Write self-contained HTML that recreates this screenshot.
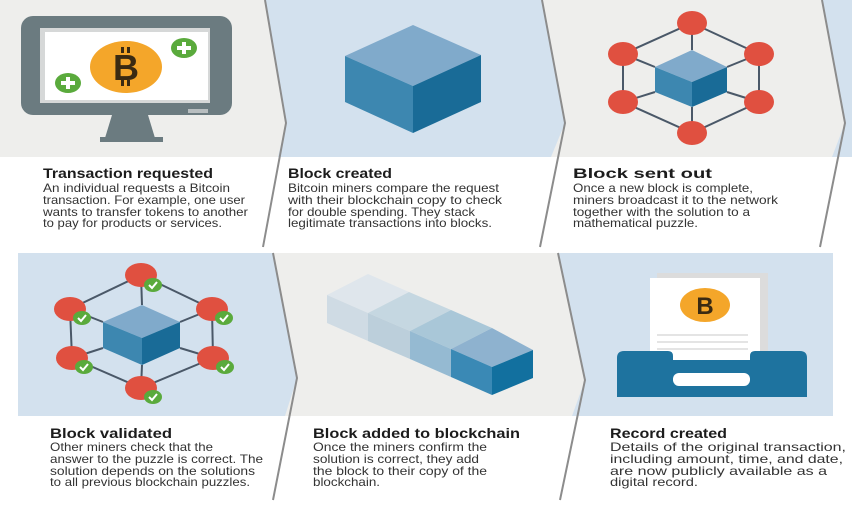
<!DOCTYPE html>
<html><head><meta charset="utf-8"><style>
html,body{margin:0;padding:0;background:#fff;}
svg{display:block;}
.t{font-family:"Liberation Sans",sans-serif;font-weight:bold;font-size:14px;fill:#1c1c1c;}
.b{font-family:"Liberation Sans",sans-serif;font-size:12px;fill:#333;}
.coin{font-family:"Liberation Sans",sans-serif;font-weight:900;fill:#3a2a12;}
</style></head><body>
<svg width="852" height="506" viewBox="0 0 852 506" xmlns="http://www.w3.org/2000/svg">
<rect x="0" y="0" width="852" height="157" fill="#eeeeec"/>
<polygon points="265,0 542,0 565,123 551,157 278,157 286,123" fill="#d3e1ee"/>
<polygon points="822,0 852,0 852,157 832,157 845,123" fill="#d3e1ee"/>
<rect x="18" y="253" width="815" height="163" fill="#d3e1ee"/>
<polygon points="273,253 558,253 585,380 572,416 285,416 297,378" fill="#eeeeec"/>
<g stroke="#8c8c8c" stroke-width="2" fill="none">
<polyline points="265,0 286,123 263,247"/>
<polyline points="542,0 565,123 540,247"/>
<polyline points="822,0 845,123 820,247"/>
<polyline points="273,253 297,378 273,500"/>
<polyline points="558,253 585,380 560,500"/>
</g>

<rect x="21" y="16" width="211" height="99" rx="12" fill="#6b7b80"/>
<rect x="40" y="28" width="170" height="75" fill="#d6d8d8"/>
<rect x="45" y="32" width="163" height="68" fill="#fff"/>
<rect x="188" y="109" width="20" height="4" fill="#b8bec0"/>
<polygon points="112,115 148,115 155,138 105,138" fill="#6b7b80"/>
<rect x="100" y="137" width="63" height="5" fill="#6b7b80"/>
<ellipse cx="126" cy="67" rx="36" ry="26" fill="#f4a62a"/>
<text x="126" y="80" text-anchor="middle" class="coin" font-size="36">B</text>
<rect x="121" y="47" width="3" height="6" fill="#3a2a12"/><rect x="127" y="47" width="3" height="6" fill="#3a2a12"/>
<rect x="121" y="80" width="3" height="6" fill="#3a2a12"/><rect x="127" y="80" width="3" height="6" fill="#3a2a12"/>
<g fill="#5aaa3c"><ellipse cx="68" cy="83" rx="13" ry="10"/><ellipse cx="184" cy="48" rx="13" ry="10"/></g>
<g fill="#fff"><rect x="61" y="81" width="14" height="4"/><rect x="66" y="77" width="4" height="12"/>
<rect x="177" y="46" width="14" height="4"/><rect x="182" y="42" width="4" height="12"/></g>

<polygon points="413,25 481,55 413,86 345,56" fill="#80aacb"/>
<polygon points="345,56 413,86 413,133 345,102" fill="#3d87b0"/>
<polygon points="413,86 481,55 481,102 413,133" fill="#196b97"/>

<g stroke="#4a5868" stroke-width="2" fill="none">
<polygon points="692,23 759,54 759,102 692,133 623,102 623,54"/>
<line x1="692" y1="23" x2="692" y2="50"/><line x1="623" y1="54" x2="655" y2="67"/>
<line x1="759" y1="54" x2="727" y2="67"/><line x1="623" y1="102" x2="655" y2="92"/>
<line x1="759" y1="102" x2="727" y2="92"/><line x1="692" y1="133" x2="692" y2="107"/>
</g>
<polygon points="692,50 727,67 692,82 655,67" fill="#80aacb"/>
<polygon points="655,67 692,82 692,107 655,92" fill="#3d87b0"/>
<polygon points="692,82 727,67 727,92 692,107" fill="#196b97"/>
<g fill="#e05040">
<ellipse cx="692" cy="23" rx="15" ry="12"/><ellipse cx="623" cy="54" rx="15" ry="12"/><ellipse cx="759" cy="54" rx="15" ry="12"/>
<ellipse cx="623" cy="102" rx="15" ry="12"/><ellipse cx="759" cy="102" rx="15" ry="12"/><ellipse cx="692" cy="133" rx="15" ry="12"/>
</g>

<g stroke="#4a5868" stroke-width="2" fill="none">
<polygon points="141,275 212,309 213,358 141,388 72,358 70,309"/>
<line x1="141" y1="275" x2="142" y2="305"/><line x1="70" y1="309" x2="103" y2="322"/>
<line x1="212" y1="309" x2="180" y2="322"/><line x1="72" y1="358" x2="103" y2="348"/>
<line x1="213" y1="358" x2="180" y2="348"/><line x1="141" y1="388" x2="142" y2="365"/>
</g>
<polygon points="142,305 180,322 142,338 103,322" fill="#80aacb"/>
<polygon points="103,322 142,338 142,365 103,348" fill="#3d87b0"/>
<polygon points="142,338 180,322 180,348 142,365" fill="#196b97"/>
<g fill="#e05040">
<ellipse cx="141" cy="275" rx="16" ry="12"/><ellipse cx="70" cy="309" rx="16" ry="12"/><ellipse cx="212" cy="309" rx="16" ry="12"/>
<ellipse cx="72" cy="358" rx="16" ry="12"/><ellipse cx="213" cy="358" rx="16" ry="12"/><ellipse cx="141" cy="388" rx="16" ry="12"/>
</g>
<g fill="#5aaa3c">
<ellipse cx="153" cy="285" rx="9" ry="7"/><ellipse cx="82" cy="318" rx="9" ry="7"/><ellipse cx="224" cy="318" rx="9" ry="7"/>
<ellipse cx="84" cy="367" rx="9" ry="7"/><ellipse cx="225" cy="367" rx="9" ry="7"/><ellipse cx="153" cy="397" rx="9" ry="7"/>
</g>
<g stroke="#fff" stroke-width="2" fill="none">
<polyline points="149,285 152,288 157,282"/><polyline points="78,318 81,321 86,315"/><polyline points="220,318 223,321 228,315"/>
<polyline points="80,367 83,370 88,364"/><polyline points="221,367 224,370 229,364"/><polyline points="149,397 152,400 157,394"/>
</g>

<polygon points="327,295 368,274 409,292 368,313" fill="#dfe6ec"/>
<polygon points="327,295 368,313 368,341 327,323" fill="#cfdbe4"/>
<polygon points="368,313 409,292 451,310 410,331" fill="#c5d7e1"/>
<polygon points="368,313 410,331 410,359 368,341" fill="#bccfdb"/>
<polygon points="410,331 451,310 492,328 451,349" fill="#a9c7d8"/>
<polygon points="410,331 451,349 451,377 410,359" fill="#95bad2"/>
<polygon points="451,349 492,328 533,350 492,367" fill="#8eb2cf"/>
<polygon points="451,349 492,367 492,395 451,377" fill="#3a89b5"/>
<polygon points="492,367 533,350 533,378 492,395" fill="#12709f"/>

<rect x="657" y="273" width="111" height="90" fill="#dcdcdc"/>
<rect x="650" y="278" width="110" height="85" fill="#fff"/>
<ellipse cx="705" cy="305" rx="25" ry="17" fill="#f4a62a"/>
<text x="705" y="314" text-anchor="middle" class="coin" font-size="24">B</text>
<g stroke="#c8c8c8" stroke-width="1"><line x1="657" y1="335" x2="748" y2="335"/><line x1="657" y1="342" x2="748" y2="342"/><line x1="657" y1="349" x2="748" y2="349"/></g>
<path d="M617,397 L617,358 Q617,351 624,351 L668,351 Q673,351 673,356 L673,360 L750,360 L750,356 Q750,351 755,351 L800,351 Q807,351 807,358 L807,397 Z" fill="#1e739f"/>
<rect x="673" y="373" width="77" height="13" rx="6" fill="#fff"/>

<text class="t" x="43" y="178" textLength="170" lengthAdjust="spacingAndGlyphs">Transaction requested</text>
<text class="b" x="43" y="192" textLength="187" lengthAdjust="spacingAndGlyphs">An individual requests a Bitcoin</text>
<text class="b" x="43" y="204" textLength="202" lengthAdjust="spacingAndGlyphs">transaction. For example, one user</text>
<text class="b" x="43" y="216" textLength="205" lengthAdjust="spacingAndGlyphs">wants to transfer tokens to another</text>
<text class="b" x="43" y="227" textLength="179" lengthAdjust="spacingAndGlyphs">to pay for products or services.</text>

<text class="t" x="288" y="178" textLength="104" lengthAdjust="spacingAndGlyphs">Block created</text>
<text class="b" x="288" y="192" textLength="211" lengthAdjust="spacingAndGlyphs">Bitcoin miners compare the request</text>
<text class="b" x="288" y="204" textLength="214" lengthAdjust="spacingAndGlyphs">with their blockchain copy to check</text>
<text class="b" x="288" y="216" textLength="187" lengthAdjust="spacingAndGlyphs">for double spending. They stack</text>
<text class="b" x="288" y="227" textLength="204" lengthAdjust="spacingAndGlyphs">legitimate transactions into blocks.</text>

<text class="t" x="573" y="178" textLength="139" lengthAdjust="spacingAndGlyphs">Block sent out</text>
<text class="b" x="573" y="192" textLength="180" lengthAdjust="spacingAndGlyphs">Once a new block is complete,</text>
<text class="b" x="573" y="204" textLength="205" lengthAdjust="spacingAndGlyphs">miners broadcast it to the network</text>
<text class="b" x="573" y="216" textLength="177" lengthAdjust="spacingAndGlyphs">together with the solution to a</text>
<text class="b" x="573" y="227" textLength="125" lengthAdjust="spacingAndGlyphs">mathematical puzzle.</text>

<text class="t" x="50" y="438" textLength="122" lengthAdjust="spacingAndGlyphs">Block validated</text>
<text class="b" x="50" y="451" textLength="163" lengthAdjust="spacingAndGlyphs">Other miners check that the</text>
<text class="b" x="50" y="463" textLength="213" lengthAdjust="spacingAndGlyphs">answer to the puzzle is correct. The</text>
<text class="b" x="50" y="475" textLength="205" lengthAdjust="spacingAndGlyphs">solution depends on the solutions</text>
<text class="b" x="50" y="486" textLength="200" lengthAdjust="spacingAndGlyphs">to all previous blockchain puzzles.</text>

<text class="t" x="313" y="438" textLength="207" lengthAdjust="spacingAndGlyphs">Block added to blockchain</text>
<text class="b" x="313" y="451" textLength="174" lengthAdjust="spacingAndGlyphs">Once the miners confirm the</text>
<text class="b" x="313" y="463" textLength="166" lengthAdjust="spacingAndGlyphs">solution is correct, they add</text>
<text class="b" x="313" y="475" textLength="174" lengthAdjust="spacingAndGlyphs">the block to their copy of the</text>
<text class="b" x="313" y="486" textLength="67" lengthAdjust="spacingAndGlyphs">blockchain.</text>

<text class="t" x="610" y="438" textLength="117" lengthAdjust="spacingAndGlyphs">Record created</text>
<text class="b" x="610" y="451" textLength="236" lengthAdjust="spacingAndGlyphs">Details of the original transaction,</text>
<text class="b" x="610" y="463" textLength="233" lengthAdjust="spacingAndGlyphs">including amount, time, and date,</text>
<text class="b" x="610" y="475" textLength="217" lengthAdjust="spacingAndGlyphs">are now publicly available as a</text>
<text class="b" x="610" y="486" textLength="88" lengthAdjust="spacingAndGlyphs">digital record.</text>
</svg>
</body></html>
